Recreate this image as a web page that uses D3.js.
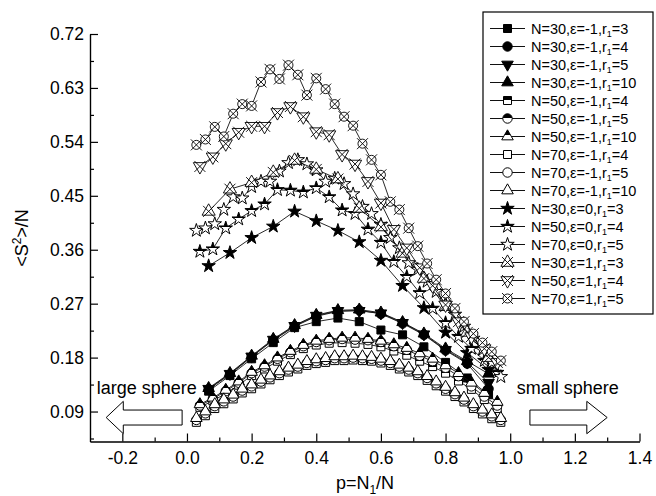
<!DOCTYPE html>
<html>
<head>
<meta charset="utf-8">
<script src="https://cdn.jsdelivr.net/npm/d3@7"></script>
<style>
  body { margin: 0; background: #fff; }
  svg { font-family: 'Liberation Sans', Arial, sans-serif; }
</style>
</head>
<body>
<div id="chart"></div>
<script>
/* global d3 */

// p = N1/N values for each chain length
const pN30 = [0.067, 0.133, 0.2, 0.267, 0.333, 0.4, 0.467, 0.533, 0.6, 0.667, 0.733, 0.8, 0.867, 0.933]
const pN50 = [0.04, 0.08, 0.12, 0.16, 0.2, 0.24, 0.28, 0.32, 0.36, 0.4, 0.44, 0.48, 0.52, 0.56, 0.6, 0.64, 0.68, 0.72, 0.76, 0.8, 0.84, 0.88, 0.92, 0.96]
const pN70 = [0.029, 0.057, 0.086, 0.114, 0.143, 0.171, 0.2, 0.229, 0.257, 0.286, 0.314, 0.343, 0.371, 0.4, 0.429, 0.457, 0.486, 0.514, 0.543, 0.571, 0.6, 0.629, 0.657, 0.686, 0.714, 0.743, 0.771, 0.8, 0.829, 0.857, 0.886, 0.914, 0.943, 0.971]

// eps = -1
const n30eM1r3 = [0.124, 0.150, 0.178, 0.205, 0.230, 0.240, 0.246, 0.240, 0.226, 0.218, 0.198, 0.172, 0.146, 0.118]
const n30eM1r4 = [0.127, 0.152, 0.181, 0.209, 0.232, 0.249, 0.257, 0.259, 0.253, 0.237, 0.218, 0.192, 0.170, 0.128]
const n30eM1r5 = [0.128, 0.153, 0.182, 0.210, 0.233, 0.250, 0.258, 0.258, 0.254, 0.238, 0.219, 0.193, 0.172, 0.138]
const n30eM1r10 = [0.129, 0.154, 0.183, 0.211, 0.234, 0.251, 0.259, 0.260, 0.255, 0.239, 0.220, 0.195, 0.174, 0.153]
const n50eM1r4 = [0.097, 0.108, 0.120, 0.134, 0.150, 0.161, 0.174, 0.185, 0.195, 0.201, 0.204, 0.205, 0.204, 0.202, 0.198, 0.191, 0.184, 0.174, 0.165, 0.154, 0.141, 0.127, 0.110, 0.095]
const n50eM1r5 = [0.100, 0.111, 0.124, 0.138, 0.154, 0.165, 0.178, 0.189, 0.199, 0.206, 0.209, 0.211, 0.210, 0.209, 0.206, 0.199, 0.193, 0.183, 0.174, 0.163, 0.149, 0.132, 0.115, 0.100]
const n50eM1r10 = [0.102, 0.113, 0.126, 0.140, 0.156, 0.167, 0.180, 0.191, 0.201, 0.208, 0.211, 0.213, 0.213, 0.211, 0.208, 0.202, 0.196, 0.187, 0.178, 0.167, 0.154, 0.138, 0.121, 0.106]
const n70eM1r4 = [0.072, 0.083, 0.095, 0.103, 0.111, 0.121, 0.128, 0.136, 0.143, 0.150, 0.156, 0.161, 0.167, 0.170, 0.172, 0.175, 0.175, 0.176, 0.175, 0.174, 0.171, 0.167, 0.161, 0.156, 0.150, 0.142, 0.133, 0.124, 0.115, 0.106, 0.095, 0.086, 0.078, 0.072]
const n70eM1r5 = [0.076, 0.087, 0.099, 0.107, 0.115, 0.125, 0.132, 0.140, 0.147, 0.154, 0.160, 0.165, 0.171, 0.174, 0.176, 0.179, 0.179, 0.180, 0.179, 0.178, 0.175, 0.171, 0.165, 0.160, 0.154, 0.146, 0.137, 0.128, 0.119, 0.110, 0.099, 0.090, 0.082, 0.076]
const n70eM1r10 = [0.079, 0.090, 0.102, 0.110, 0.118, 0.128, 0.135, 0.143, 0.150, 0.157, 0.163, 0.168, 0.174, 0.177, 0.179, 0.182, 0.182, 0.183, 0.182, 0.181, 0.178, 0.174, 0.168, 0.163, 0.157, 0.149, 0.140, 0.131, 0.122, 0.113, 0.102, 0.093, 0.085, 0.079]

// eps = 0
const n30e0r3 = [0.333, 0.355, 0.380, 0.399, 0.424, 0.408, 0.392, 0.373, 0.342, 0.300, 0.263, 0.222, 0.188, 0.160]
const n50e0r4 = [0.357, 0.361, 0.396, 0.411, 0.425, 0.436, 0.460, 0.459, 0.456, 0.463, 0.448, 0.426, 0.420, 0.394, 0.372, 0.340, 0.315, 0.288, 0.262, 0.238, 0.215, 0.195, 0.175, 0.155]
const n70e0r5 = [0.392, 0.396, 0.403, 0.427, 0.448, 0.446, 0.465, 0.474, 0.474, 0.491, 0.505, 0.510, 0.503, 0.493, 0.474, 0.479, 0.470, 0.453, 0.432, 0.420, 0.402, 0.380, 0.363, 0.338, 0.327, 0.307, 0.290, 0.270, 0.252, 0.232, 0.212, 0.193, 0.172, 0.148]

// eps = 1
const n30e1r3 = [0.424, 0.461, 0.472, 0.489, 0.509, 0.494, 0.478, 0.429, 0.398, 0.354, 0.312, 0.265, 0.222, 0.180]
const n50e1r4 = [0.499, 0.515, 0.537, 0.556, 0.566, 0.566, 0.589, 0.599, 0.582, 0.557, 0.552, 0.519, 0.503, 0.474, 0.438, 0.394, 0.363, 0.330, 0.300, 0.268, 0.240, 0.215, 0.195, 0.172]
const n70e1r5 = [0.535, 0.544, 0.565, 0.549, 0.587, 0.603, 0.600, 0.640, 0.661, 0.645, 0.668, 0.652, 0.618, 0.646, 0.628, 0.603, 0.582, 0.567, 0.537, 0.510, 0.485, 0.440, 0.427, 0.396, 0.366, 0.337, 0.310, 0.287, 0.262, 0.240, 0.220, 0.205, 0.190, 0.175]

// legend text parts
const legendN = [30, 30, 30, 30, 50, 50, 50, 70, 70, 70, 30, 50, 70, 30, 50, 70]
const legendEps = [-1, -1, -1, -1, -1, -1, -1, -1, -1, -1, 0, 0, 0, 1, 1, 1]
const legendR = [3, 4, 5, 10, 4, 5, 10, 4, 5, 10, 3, 4, 5, 3, 4, 5]

const xTicks = [-0.2, 0, 0.2, 0.4, 0.6, 0.8, 1.0, 1.2, 1.4]
const xMinor = [-0.1, 0.1, 0.3, 0.5, 0.7, 0.9, 1.1, 1.3]
const yTicks = [0.09, 0.18, 0.27, 0.36, 0.45, 0.54, 0.63, 0.72]
const yMinor = [0.045, 0.135, 0.225, 0.315, 0.405, 0.495, 0.585, 0.675]

const series = [
  { p: pN30, v: n30eM1r3, shape: 'square', fill: 'full' },
  { p: pN30, v: n30eM1r4, shape: 'circle', fill: 'full' },
  { p: pN30, v: n30eM1r5, shape: 'triDown', fill: 'full' },
  { p: pN30, v: n30eM1r10, shape: 'tri', fill: 'full' },
  { p: pN50, v: n50eM1r4, shape: 'square', fill: 'half' },
  { p: pN50, v: n50eM1r5, shape: 'circle', fill: 'half' },
  { p: pN50, v: n50eM1r10, shape: 'tri', fill: 'half' },
  { p: pN70, v: n70eM1r4, shape: 'square', fill: 'none' },
  { p: pN70, v: n70eM1r5, shape: 'circle', fill: 'none' },
  { p: pN70, v: n70eM1r10, shape: 'tri', fill: 'none' },
  { p: pN30, v: n30e0r3, shape: 'star', fill: 'full' },
  { p: pN50, v: n50e0r4, shape: 'star', fill: 'half' },
  { p: pN70, v: n70e0r5, shape: 'star', fill: 'none' },
  { p: pN30, v: n30e1r3, shape: 'xTri', fill: 'none' },
  { p: pN50, v: n50e1r4, shape: 'xTriDown', fill: 'none' },
  { p: pN70, v: n70e1r5, shape: 'xCircle', fill: 'none' }
]

const width = 656
const height = 496

const svg = d3.select('#chart')
  .append('svg')
  .attr('width', width)
  .attr('height', height)

const grad = svg.append('defs').append('linearGradient')
  .attr('id', 'half')
  .attr('x1', 0).attr('y1', 0).attr('x2', 0).attr('y2', 1)
grad.append('stop').attr('offset', 0.5).attr('stop-color', '#000')
grad.append('stop').attr('offset', 0.5).attr('stop-color', '#fff')

const x = d3.scaleLinear().domain([-0.3, 1.4]).range([90, 639.5])
const y = d3.scaleLinear().domain([0.04, 0.72]).range([441.5, 34])

// Eixos
const axisStyle = g => {
  g.selectAll('path, line').attr('stroke', '#000').attr('stroke-width', 1.2)
  g.selectAll('text').attr('font-size', 17.5).attr('fill', '#000')
}

svg.append('g')
  .attr('transform', `translate(0,${y.range()[0]})`)
  .call(d3.axisBottom(x).tickValues(xMinor).tickSize(-4).tickSizeOuter(0).tickFormat(''))
  .call(axisStyle)
svg.append('g')
  .attr('transform', `translate(0,${y.range()[0]})`)
  .call(d3.axisBottom(x).tickValues(xTicks).tickSize(-8).tickSizeOuter(0).tickPadding(10).tickFormat(d3.format('.1f')))
  .call(axisStyle)
  .call(g => g.selectAll('text').text(d => d3.format('.1f')(d).replace('−', '-')))

svg.append('g')
  .attr('transform', `translate(${x.range()[0]},0)`)
  .call(d3.axisLeft(y).tickValues(yMinor).tickSize(-4).tickSizeOuter(0).tickFormat(''))
  .call(axisStyle)
svg.append('g')
  .attr('transform', `translate(${x.range()[0]},0)`)
  .call(d3.axisLeft(y).tickValues(yTicks).tickSize(-8).tickSizeOuter(0).tickPadding(6).tickFormat(d3.format('.2f')))
  .call(axisStyle)

// Titulos dos eixos
const xTitle = svg.append('text')
  .attr('x', 365).attr('y', 489)
  .attr('text-anchor', 'middle')
  .attr('font-size', 18)
xTitle.append('tspan').text('p=N')
xTitle.append('tspan').attr('dy', 5).attr('font-size', 12).text('1')
xTitle.append('tspan').attr('dy', -5).text('/N')

const yTitle = svg.append('text')
  .attr('transform', 'translate(28,238) rotate(-90)')
  .attr('text-anchor', 'middle')
  .attr('font-size', 18)
yTitle.append('tspan').text('<S')
yTitle.append('tspan').attr('dy', -7).attr('font-size', 12).text('2')
yTitle.append('tspan').attr('dy', 7).text('>/N')

// Simbolos
const symbolSize = { square: 64, circle: 70, tri: 58, triDown: 58, star: 56 }
const symbolType = {
  square: d3.symbolSquare,
  circle: d3.symbolCircle,
  tri: d3.symbolTriangle,
  triDown: d3.symbolTriangle,
  star: d3.symbolStar
}

function drawMarker (g, s) {
  const fill = s.fill === 'full' ? '#000' : s.fill === 'half' ? 'url(#half)' : '#fff'
  if (s.shape.startsWith('x')) {
    const base = s.shape === 'xTri' ? 'tri' : s.shape === 'xTriDown' ? 'triDown' : 'circle'
    g.append('path')
      .attr('d', d3.symbol().type(symbolType[base]).size(base === 'circle' ? 64 : 75)())
      .attr('transform', base === 'triDown' ? 'rotate(180)' : null)
      .attr('fill', '#fff')
      .attr('stroke', '#000')
      .attr('stroke-width', 0.9)
    g.append('path')
      .attr('d', 'M-5.5,-5.5L5.5,5.5M-5.5,5.5L5.5,-5.5')
      .attr('stroke', '#000')
      .attr('stroke-width', 0.9)
    return
  }
  g.append('path')
    .attr('d', d3.symbol().type(symbolType[s.shape]).size(symbolSize[s.shape])())
    .attr('transform', s.shape === 'triDown' ? 'rotate(180)' : null)
    .attr('fill', fill)
    .attr('stroke', '#000')
    .attr('stroke-width', 1)
}

const line = d3.line()
  .x(d => x(d[0]))
  .y(d => y(d[1]))

const plot = svg.append('g')
series.forEach(s => {
  const pts = s.p.map((p, i) => [p, s.v[i]])
  plot.append('path')
    .datum(pts)
    .attr('d', line)
    .attr('fill', 'none')
    .attr('stroke', '#111')
    .attr('stroke-width', 0.9)
  plot.append('g')
    .selectAll('g')
    .data(pts)
    .join('g')
    .attr('transform', d => `translate(${x(d[0])},${y(d[1])})`)
    .each(function () { drawMarker(d3.select(this), s) })
})

// Setas "large sphere" / "small sphere"
const arrowLeft = [[-0.25, 0.08], [-0.197, 0.107], [-0.197, 0.0925], [-0.015, 0.0925], [-0.015, 0.0675], [-0.197, 0.0675], [-0.197, 0.053]]
const arrowRight = [[1.3, 0.08], [1.237, 0.107], [1.237, 0.0925], [1.061, 0.0925], [1.061, 0.0675], [1.237, 0.0675], [1.237, 0.053]]

svg.selectAll('polygon.arrow')
  .data([arrowLeft, arrowRight])
  .join('polygon')
  .attr('class', 'arrow')
  .attr('points', d => d.map(q => `${x(q[0])},${y(q[1])}`).join(' '))
  .attr('fill', '#fff')
  .attr('stroke', '#000')
  .attr('stroke-width', 1)

svg.append('text')
  .attr('x', x(-0.279)).attr('y', y(0.12))
  .attr('font-size', 18)
  .text('large sphere')
svg.append('text')
  .attr('x', x(1.02)).attr('y', y(0.12))
  .attr('font-size', 18)
  .text('small sphere')

// Legenda
const legend = svg.append('g')
legend.append('rect')
  .attr('x', 483).attr('y', 12)
  .attr('width', 170).attr('height', 302)
  .attr('fill', '#fff')
  .attr('stroke', '#000')
  .attr('stroke-width', 1.2)

series.forEach((s, i) => {
  const cy = 28.5 + i * 18
  legend.append('line')
    .attr('x1', 490).attr('x2', 525)
    .attr('y1', cy).attr('y2', cy)
    .attr('stroke', '#111')
    .attr('stroke-width', 1)
  drawMarker(legend.append('g').attr('transform', `translate(507.5,${cy})`), s)
  const t = legend.append('text')
    .attr('x', 531).attr('y', cy + 5)
    .attr('font-size', 14.5)
  t.append('tspan').text(`N=${legendN[i]},ε=${legendEps[i]},r`)
  t.append('tspan').attr('dy', 3).attr('font-size', 9).text('1')
  t.append('tspan').attr('dy', -3).text(`=${legendR[i]}`)
})
</script>
</body>
</html>
